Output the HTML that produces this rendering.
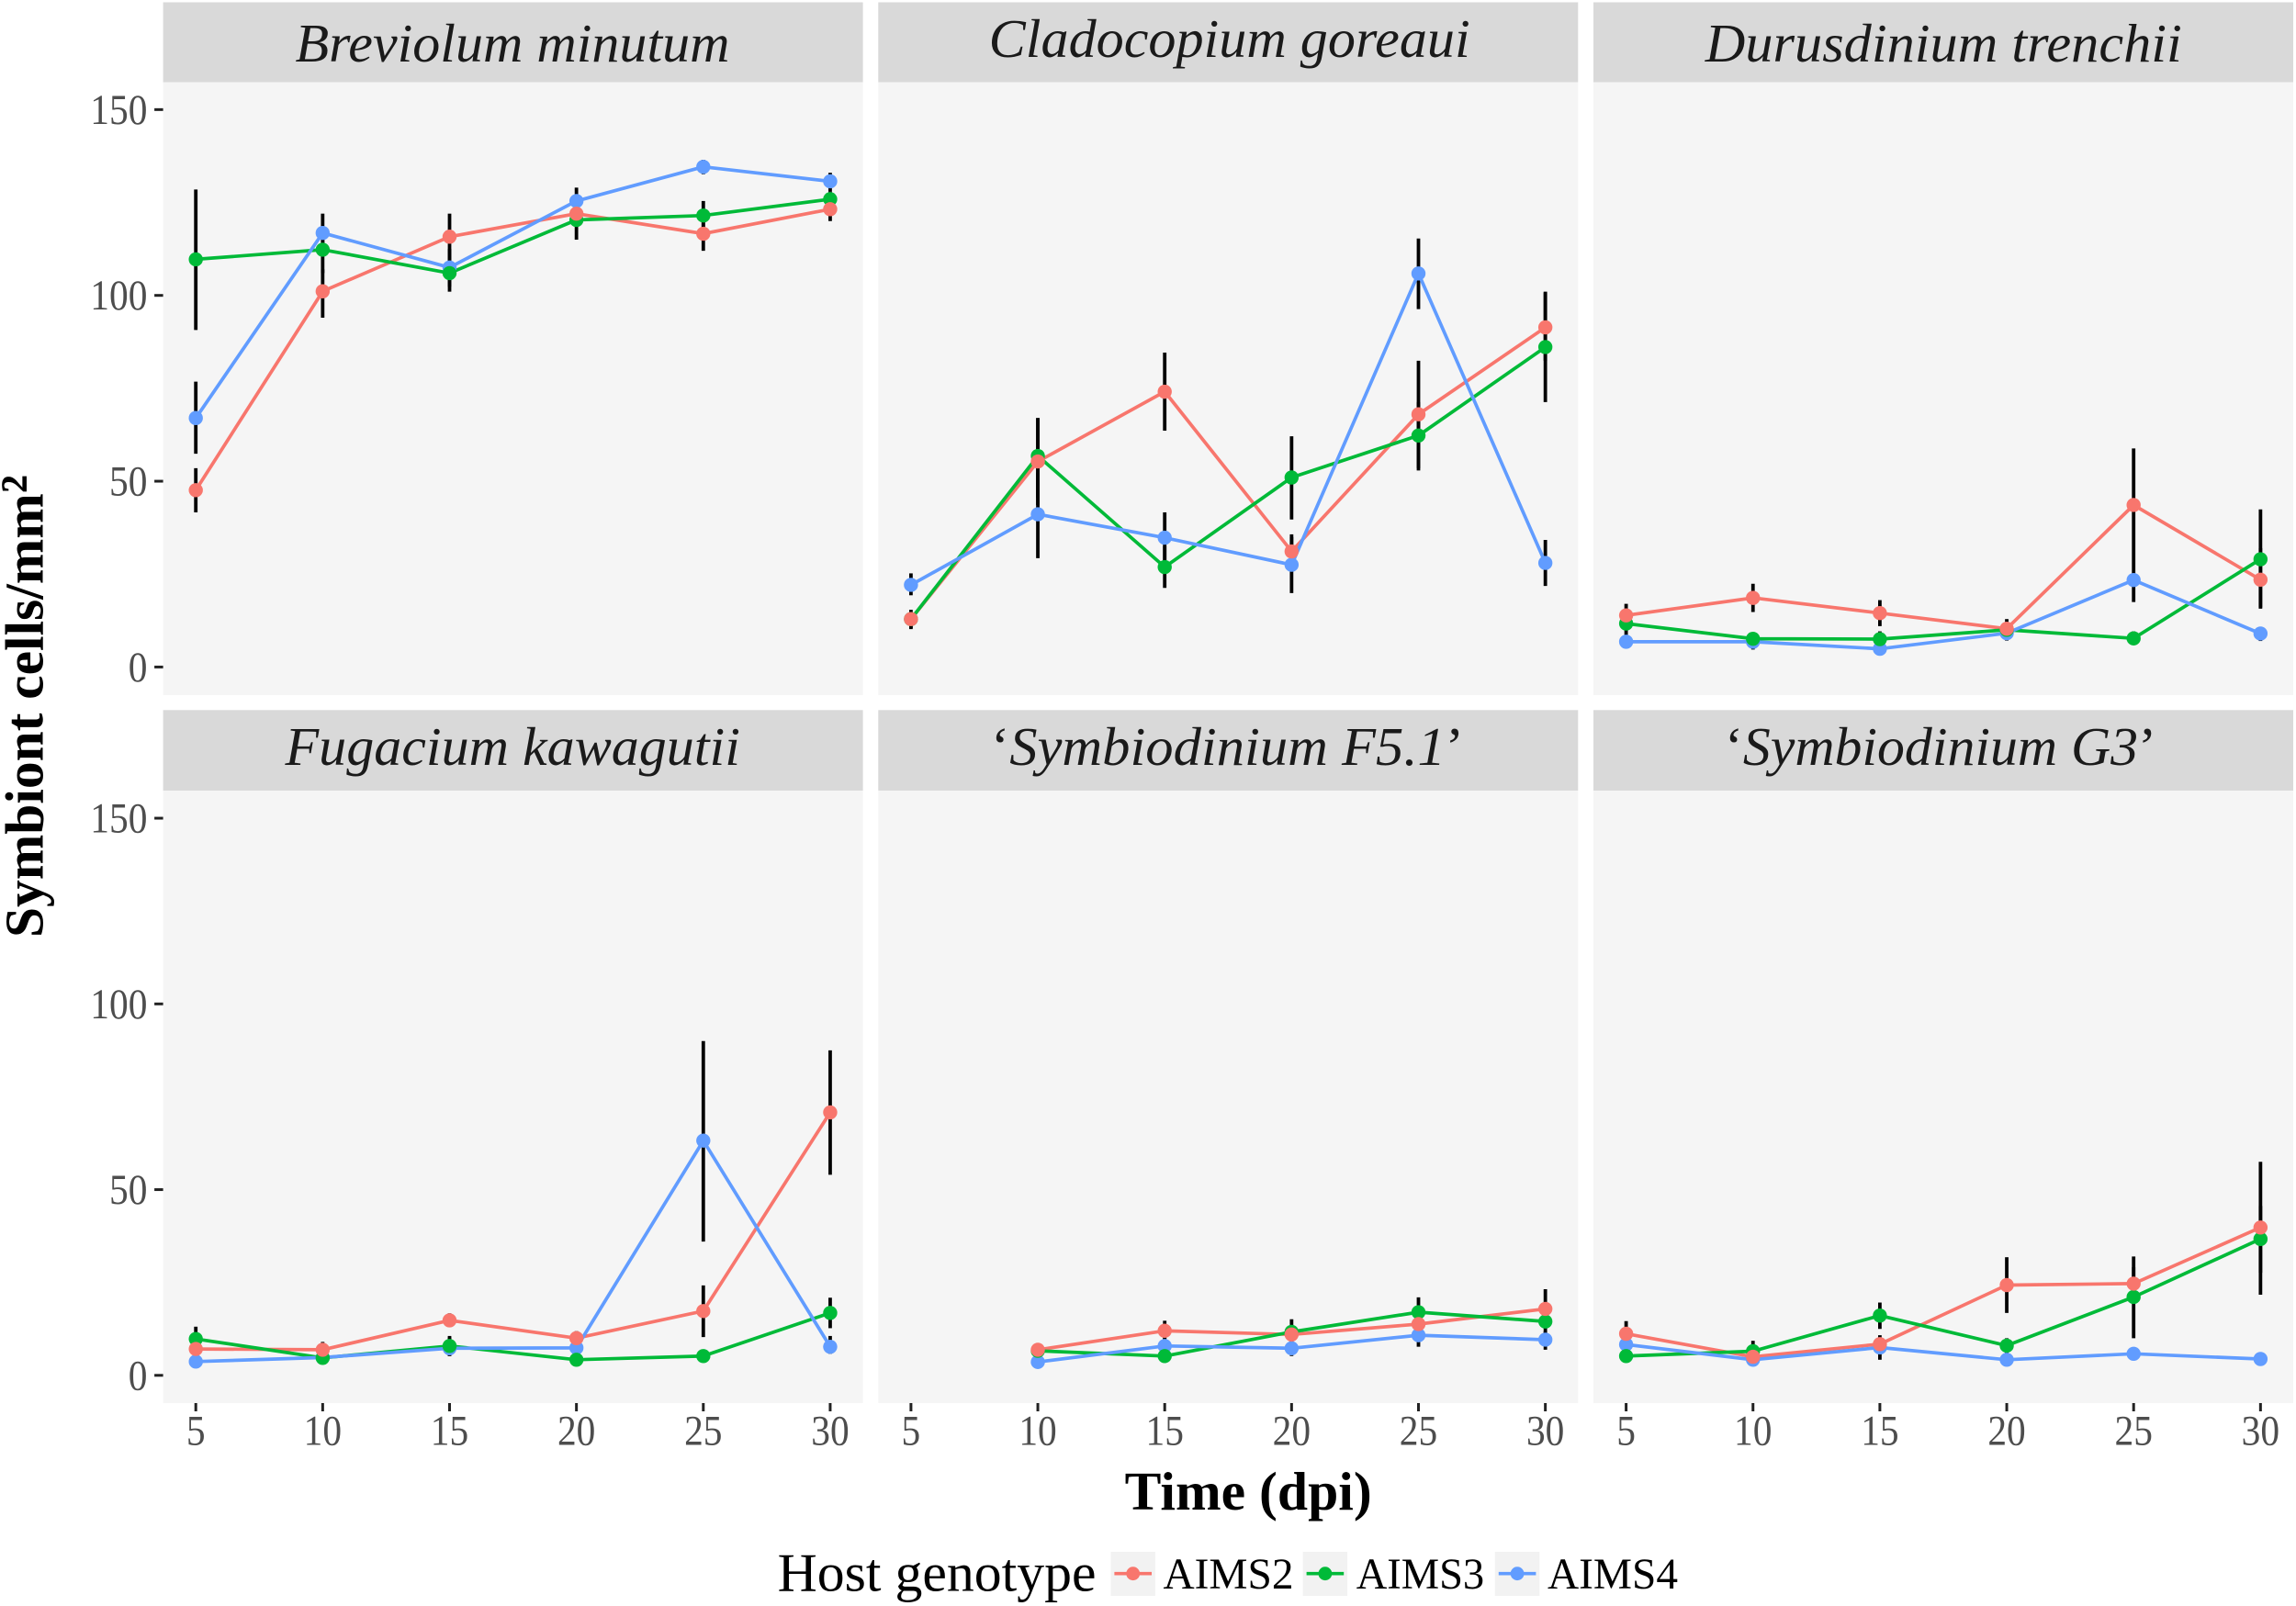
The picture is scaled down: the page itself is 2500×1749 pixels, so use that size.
<!DOCTYPE html>
<html lang="en">
<head>
<meta charset="utf-8">
<title>Symbiont cells over time by host genotype</title>
<style>
html,body{margin:0;padding:0;background:#fff}
svg{display:block}
text{font-family:"Liberation Serif","Times New Roman",serif}
</style>
</head>
<body>
<svg id="chart" xmlns="http://www.w3.org/2000/svg" width="2500" height="1749" viewBox="0 0 2500 1749">
<rect x="0" y="0" width="2500" height="1749" fill="#ffffff"/>
<g id="panels"></g>

<g font-size="59" font-style="italic" fill="#1a1a1a">
<text x="321.5" y="67" textLength="473" lengthAdjust="spacingAndGlyphs">Breviolum minutum</text>
<text x="1076.7" y="62" textLength="524" lengthAdjust="spacingAndGlyphs">Cladocopium goreaui</text>
<text x="1856.8" y="67" textLength="519" lengthAdjust="spacingAndGlyphs">Durusdinium trenchii</text>
<text x="310.5" y="833" textLength="495.4" lengthAdjust="spacingAndGlyphs">Fugacium kawagutii</text>
<text x="1079" y="833" textLength="515" lengthAdjust="spacingAndGlyphs"><tspan font-style="normal">‘</tspan>Symbiodinium F5.1<tspan font-style="normal">’</tspan></text>
<text x="1878" y="833" textLength="470" lengthAdjust="spacingAndGlyphs"><tspan font-style="normal">‘</tspan>Symbiodinium G3<tspan font-style="normal">’</tspan></text>
</g>

<text transform="translate(46.5,1021) rotate(-90)" font-size="59" font-weight="bold" fill="#000" textLength="504" lengthAdjust="spacingAndGlyphs">Symbiont cells/mm<tspan font-size="67">²</tspan></text>
<text x="1224.7" y="1644" font-size="59" font-weight="bold" fill="#000" textLength="269" lengthAdjust="spacingAndGlyphs">Time (dpi)</text>

<g>
<text x="846.6" y="1732.5" font-size="59" fill="#000" textLength="347" lengthAdjust="spacingAndGlyphs">Host genotype</text>
<g>
<rect x="1209.4" y="1690" width="48.5" height="48" fill="#f2f2f2"/>
<line x1="1213.4" x2="1254" y1="1713.7" y2="1713.7" stroke="#F8766D" stroke-width="3.6"/>
<circle cx="1233.7" cy="1713.7" r="7.4" fill="#F8766D"/>
<text x="1266.5" y="1730" font-size="48" fill="#000" textLength="142" lengthAdjust="spacingAndGlyphs">AIMS2</text>
</g>
<g>
<rect x="1418.6" y="1690" width="48.5" height="48" fill="#f2f2f2"/>
<line x1="1422.6" x2="1463.2" y1="1713.7" y2="1713.7" stroke="#00BA38" stroke-width="3.6"/>
<circle cx="1442.9" cy="1713.7" r="7.4" fill="#00BA38"/>
<text x="1476.7" y="1730" font-size="48" fill="#000" textLength="139.5" lengthAdjust="spacingAndGlyphs">AIMS3</text>
</g>
<g>
<rect x="1627.8" y="1690" width="48.5" height="48" fill="#f2f2f2"/>
<line x1="1631.8" x2="1672.4" y1="1713.7" y2="1713.7" stroke="#619CFF" stroke-width="3.6"/>
<circle cx="1652.1" cy="1713.7" r="7.4" fill="#619CFF"/>
<text x="1685" y="1730" font-size="48" fill="#000" textLength="142" lengthAdjust="spacingAndGlyphs">AIMS4</text>
</g>
</g>
</svg>

<script>
const dpiCategories = [5, 10, 15, 20, 25, 30];
const yTickLabels = [0, 50, 100, 150];
const panelKeys = ['breviolum', 'cladocopium', 'durusdinium', 'fugacium', 'f51', 'g3'];

const aims2Mean = [
  [47.6, 101.1, 115.8, 122.0, 116.6, 123.2],
  [12.9, 55.3, 74.1, 31.1, 68.0, 91.4],
  [13.9, 18.6, 14.5, 10.3, 43.6, 23.5],
  [7.1, 6.9, 14.8, 10.0, 17.3, 70.8],
  [null, 6.9, 12.0, 11.0, 13.8, 17.9],
  [11.2, 5.0, 8.4, 24.3, 24.7, 39.8]
];
const aims2High = [
  [53.5, 107, 122, 124, 120.5, 126],
  [15.4, 67, 84.6, 35.7, 82.4, 101],
  [17, 22.4, 18, 12.9, 58.8, 32],
  [9.3, 9, 16.7, 11.9, 24.2, 87.5],
  [null, 8.7, 14.7, 13.5, 16.1, 23.2],
  [14.6, 6.5, 10.8, 31.8, 29.1, 45.6]
];
const aims2Low = [
  [41.6, 94, 109.4, 120, 112, 120],
  [10.2, 43.6, 63.6, 26.4, 53.5, 82.4],
  [10.8, 14.8, 11, 8, 28.9, 15.7],
  [5.2, 5.2, 13, 8.3, 10.3, 54],
  [null, 5.2, 9.3, 8.5, 11.4, 12.6],
  [8.1, 3.6, 4.2, 16.8, 20, 27.6]
];

const aims3Mean = [
  [109.7, 112.3, 106.0, 120.3, 121.5, 125.9],
  [12.9, 56.8, 26.9, 51.0, 62.3, 86.1],
  [11.7, 7.6, 7.5, 10.0, 7.7, 29.0],
  [9.8, 4.7, 7.9, 4.2, 5.2, 16.8],
  [null, 6.6, 5.2, 11.7, 17.0, 14.5],
  [5.2, 6.5, 16.1, 8.0, 21.1, 36.7]
];
const aims3High = [
  [128.5, 116, 109.4, 125.4, 125.4, 128],
  [14.8, 67, 32.6, 62.1, 71.3, 100.8],
  [14.1, 9.2, 9.6, 12, 9.6, 42.4],
  [13.1, 6.4, 10.6, 5.8, 6.8, 20.9],
  [null, 8.1, 7, 15.1, 21, 18.4],
  [6.7, 9.3, 19.6, 10, 32, 57.5]
];
const aims3Low = [
  [90.7, 106, 101, 115, 117.4, 124],
  [10.5, 45.5, 21.3, 39.7, 52.9, 71.3],
  [8.4, 5.9, 5.5, 7.4, 5.9, 16],
  [6.4, 3, 5.2, 2.6, 3.5, 12.7],
  [null, 5.2, 3.4, 8.5, 13.5, 10.6],
  [3.7, 3.6, 12.5, 6, 10, 21.7]
];

const aims4Mean = [
  [67.0, 116.8, 107.5, 125.4, 134.6, 130.7],
  [22.1, 41.1, 34.8, 27.5, 105.9, 28.0],
  [6.8, 6.8, 4.9, 9.1, 23.4, 9.0],
  [3.7, 4.8, 7.3, 7.4, 63.2, 7.7],
  [null, 3.6, 7.9, 7.3, 10.8, 9.6],
  [8.3, 4.2, 7.5, 4.2, 5.8, 4.4]
];
const aims4High = [
  [76.8, 122, 112.5, 129, 136.5, 133],
  [25.2, 52.3, 41.6, 35, 115.3, 34.2],
  [8, 8.6, 6.1, 11, 28.9, 10.8],
  [5.2, 6.8, 10.2, 9.6, 90, 10.6],
  [null, 5.2, 10.2, 8.9, 13, 11.8],
  [10.2, 5.6, 8.9, 5.6, 7.3, 6]
];
const aims4Low = [
  [57.4, 112, 102.3, 122, 132.6, 128],
  [19.3, 29.3, 27.9, 19.9, 96.3, 21.8],
  [5.5, 4.7, 3.7, 7.1, 17.5, 7],
  [2.3, 3, 5.2, 5.6, 36, 5.8],
  [null, 1.9, 5.6, 5.2, 7.7, 6.9],
  [6.5, 2.6, 5.9, 2.8, 4.2, 2.8]
];

const NS = 'http://www.w3.org/2000/svg';
const root = document.getElementById('panels');
const COL_LEFT = 177.6, COL_STEP = 778.7, PANEL_W = 762;
const RED = '#F8766D', GREEN = '#00BA38', BLUE = '#619CFF';

function make(tag, attrs, parent, text) {
  const el = document.createElementNS(NS, tag);
  for (const k in attrs) el.setAttribute(k, attrs[k]);
  if (text !== undefined) el.textContent = text;
  parent.appendChild(el);
  return el;
}
function panelLeft(col) { return COL_LEFT + col * COL_STEP; }
function stripTop(row) { return row === 0 ? 2.5 : 773.3; }
function plotTop(row) { return row === 0 ? 89.5 : 861; }
function plotBottom(row) { return row === 0 ? 757 : 1528; }
function xScale(col, dpi) { return panelLeft(col) + 35.6 + (dpi - 5) * 27.63; }
function yScale(row, value) { return (row === 0 ? 726.4 : 1497.8) - value * (row === 0 ? 4.047 : 4.045); }

const seriesDefs = [
  { key: 'aims2', color: RED, mean: aims2Mean, low: aims2Low, high: aims2High },
  { key: 'aims3', color: GREEN, mean: aims3Mean, low: aims3Low, high: aims3High },
  { key: 'aims4', color: BLUE, mean: aims4Mean, low: aims4Low, high: aims4High }
];

panelKeys.forEach(function (pKey, p) {
  const col = p % 3, row = Math.floor(p / 3);
  const left = panelLeft(col);
  const g = make('g', {}, root);
  
  

  const strip = make('rect', { x: left, y: stripTop(row), width: PANEL_W, height: plotTop(row) - stripTop(row), fill: '#d9d9d9' }, g);
  
  

  const bg = make('rect', { x: left, y: plotTop(row), width: PANEL_W, height: plotBottom(row) - plotTop(row), fill: '#f5f5f5' }, g);
  
  

  if (col === 0) {
    yTickLabels.forEach(function (t) {
      const y = yScale(row, t);
      const tick = make('line', { x1: left - 9.5, x2: left, y1: y, y2: y, stroke: '#222', 'stroke-width': 3 }, g);
      
      
      const label = make('text', { x: left - 17.2, y: y + 15.5, 'text-anchor': 'end', 'font-size': 47, fill: '#4d4d4d', textLength: String(t).length * 20.7, lengthAdjust: 'spacingAndGlyphs' }, g, String(t));
      
      
    });
  }
  if (row === 1) {
    dpiCategories.forEach(function (d) {
      const x = xScale(col, d);
      const tick = make('line', { x1: x, x2: x, y1: plotBottom(row), y2: plotBottom(row) + 9, stroke: '#222', 'stroke-width': 3 }, g);
      
      
      const label = make('text', { x: x, y: 1573.5, 'text-anchor': 'middle', 'font-size': 47, fill: '#4d4d4d', textLength: String(d).length * 20.7, lengthAdjust: 'spacingAndGlyphs' }, g, String(d));
      
      
    });
  }

  seriesDefs.forEach(function (s) {
    dpiCategories.forEach(function (d, i) {
      if (s.mean[p][i] === null) return;
      const x = xScale(col, d);
      const bar = make('line', { x1: x, x2: x, y1: yScale(row, s.low[p][i]), y2: yScale(row, s.high[p][i]), stroke: '#000', 'stroke-width': 3.8 }, g);
      
      
    });
  });

  seriesDefs.forEach(function (s) {
    const pts = [];
    dpiCategories.forEach(function (d, i) {
      if (s.mean[p][i] !== null) pts.push(xScale(col, d).toFixed(1) + ',' + yScale(row, s.mean[p][i]).toFixed(1));
    });
    const line = make('polyline', { points: pts.join(' '), fill: 'none', stroke: s.color, 'stroke-width': 3.7, 'stroke-linejoin': 'round' }, g);
    
    
  });

  seriesDefs.slice().reverse().forEach(function (s) {
    dpiCategories.forEach(function (d, i) {
      if (s.mean[p][i] === null) return;
      const dot = make('circle', { cx: xScale(col, d), cy: yScale(row, s.mean[p][i]), r: 7.7, fill: s.color }, g);
      
      
    });
  });
});
</script>
</body>
</html>
